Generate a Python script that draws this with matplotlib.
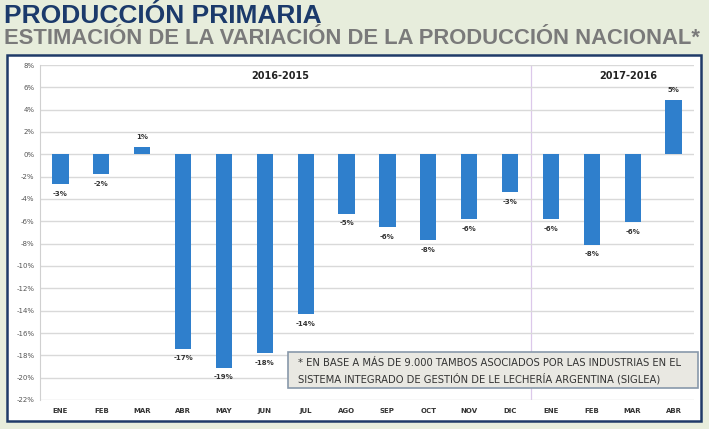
import matplotlib
matplotlib.use("Agg")
import matplotlib.pyplot as plt
from matplotlib.patches import Rectangle

months = ["ENE", "FEB", "MAR", "ABR", "MAY", "JUN", "JUL", "AGO", "SEP", "OCT", "NOV", "DIC",
          "ENE", "FEB", "MAR", "ABR"]
values = [-2.7, -1.8, 0.7, -17.4, -19.1, -17.8, -14.3, -5.3, -6.5, -7.7, -5.8, -3.4,
          -5.8, -8.1, -6.1, 4.9]
labels = ["-3%", "-2%", "1%", "-17%", "-19%", "-18%", "-14%", "-5%", "-6%", "-8%", "-6%", "-3%",
          "-6%", "-8%", "-6%", "5%"]
yticks = list(range(8, -23, -2))
periods = ["2016-2015", "2017-2016"]

W, H = 709, 429
fig = plt.figure(figsize=(W / 100, H / 100), dpi=100)
fig.patch.set_facecolor("#e7eddc")

# white panel with border
panel = Rectangle((7 / W, 1 - 421 / H), (701 - 7) / W, (421 - 55) / H,
                  transform=fig.transFigure, facecolor="white", edgecolor="#1f3a68",
                  linewidth=1.8, zorder=-5)
fig.patches.append(panel)

fig.text(4 / W, 1 - 16 / H, "PRODUCCIÓN PRIMARIA", fontsize=19, fontweight="bold",
         color="#1b3a6b", va="center", ha="left", family="Liberation Sans")
fig.text(4 / W, 1 - 38 / H, "ESTIMACIÓN DE LA VARIACIÓN DE LA PRODUCCIÓN NACIONAL*",
         fontsize=15.8, fontweight="bold", color="#7a7a7a", va="center", ha="left",
         family="Liberation Sans")

ax = fig.add_axes([40 / W, 1 - 400 / H, (694 - 40) / W, (400 - 65) / H])
ax.set_facecolor("none")
x = list(range(len(months)))
ax.bar(x, values, width=0.4, color="#2f7fcc", zorder=3)
ax.set_xlim(-0.5, len(months) - 0.5)
ax.set_ylim(-22, 8)
ax.set_yticks(yticks)
ax.set_yticklabels([f"{t}%" for t in yticks], fontsize=5, color="#555555")
ax.set_xticks(x)
ax.set_xticklabels(months, fontsize=5, color="#333333", fontweight="bold")
ax.tick_params(length=0)
ax.tick_params(axis="y", pad=4)
ax.tick_params(axis="x", pad=6)
ax.grid(axis="y", color="#d9d9d9", linewidth=1, zorder=0)
for s in ["top", "right", "bottom"]:
    ax.spines[s].set_visible(False)
ax.spines["left"].set_color("#d0d0d0")

for xi, v, lab in zip(x, values, labels):
    if v >= 0:
        ax.text(xi, v + 0.6, lab, ha="center", va="bottom", fontsize=5, fontweight="bold",
                color="#333333")
    else:
        ax.text(xi, v - 0.6, lab, ha="center", va="top", fontsize=5, fontweight="bold",
                color="#333333")

ax.axvline(11.5, color="#dcc8ea", linewidth=0.9, zorder=1)
ax.text(5.38, 7.0, periods[0], ha="center", va="center", fontsize=7, fontweight="bold",
        color="#222222")
ax.text(13.9, 7.0, periods[1], ha="center", va="center", fontsize=7, fontweight="bold",
        color="#222222")

# footnote box
box = Rectangle((288 / W, 1 - 388 / H), (698 - 288) / W, (388 - 352) / H,
                transform=fig.transFigure, facecolor="#e9e8e2", edgecolor="#8898aa",
                linewidth=1.2, zorder=5)
fig.patches.append(box)
fig.text(298 / W, 1 - 363 / H,
         "* EN BASE A MÁS DE 9.000 TAMBOS ASOCIADOS POR LAS INDUSTRIAS EN EL",
         fontsize=7.2, color="#333333", va="center", ha="left", zorder=6)
fig.text(298 / W, 1 - 379 / H,
         "SISTEMA INTEGRADO DE GESTIÓN DE LE LECHERÍA ARGENTINA (SIGLEA)",
         fontsize=7.2, color="#333333", va="center", ha="left", zorder=6)

fig.savefig("out.png", dpi=100, facecolor=fig.get_facecolor())
